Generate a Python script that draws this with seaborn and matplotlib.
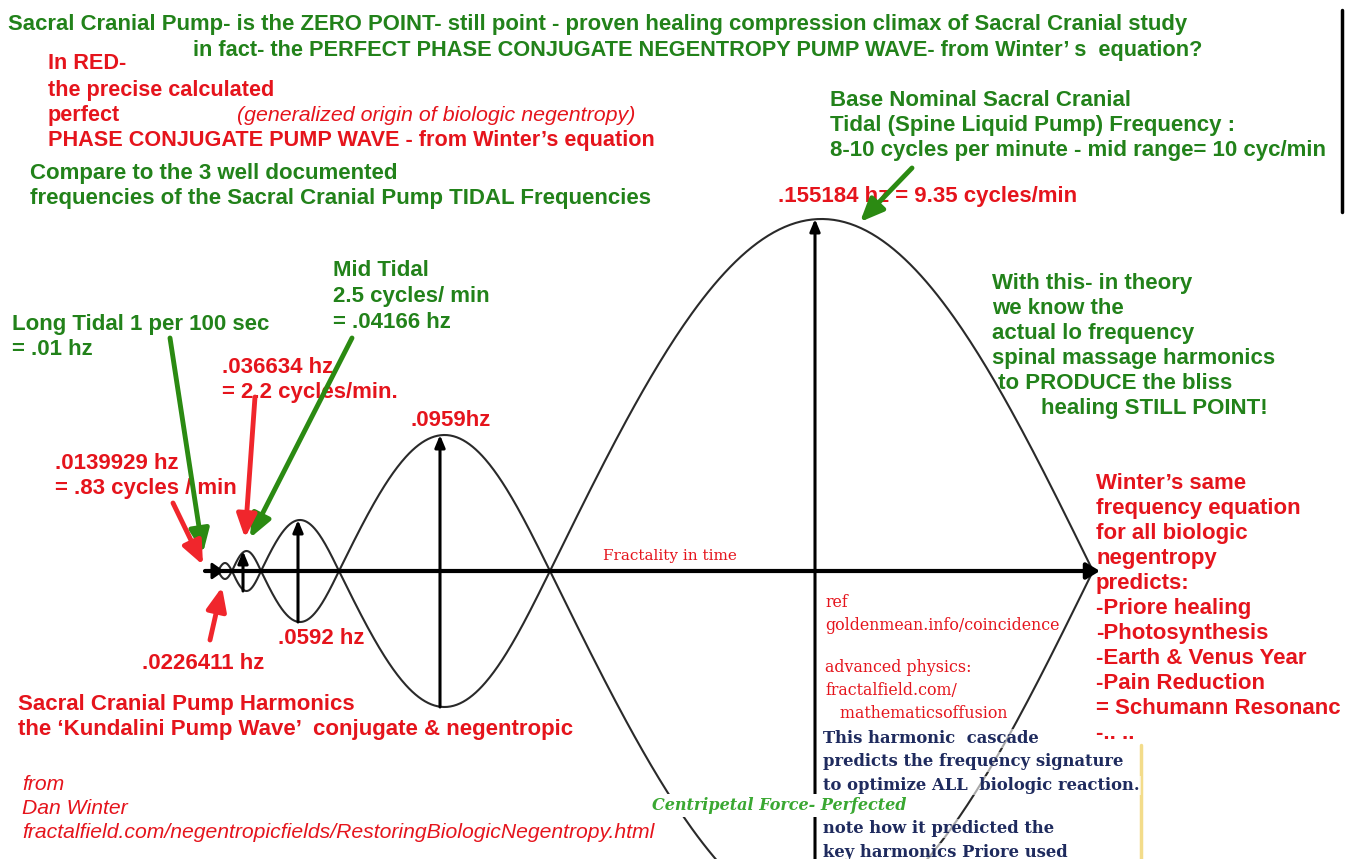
import numpy as np
import pandas as pd
import matplotlib
matplotlib.use("Agg")
import matplotlib.pyplot as plt
import seaborn as sns

sns.set_theme(style="white")
plt.rcParams['font.family'] = ['Liberation Sans', 'DejaVu Sans']

# wave: zero crossings along the time line (px) and lobe heights (px)
nodes = [218, 232, 261, 339, 550, 1093]
heights = [8, 20, 51, 136, 352]
peak_x = [225, 243, 298, 440, 815]
axis_y = 571

# texts
title_lines = ["Sacral Cranial Pump- is the ZERO POINT- still point - proven healing compression climax of Sacral Cranial study",
               "in fact- the PERFECT PHASE CONJUGATE NEGENTROPY PUMP WAVE- from Winter\u2019 s  equation?"]
red_intro = ["In RED-", "the precise calculated", "perfect",
             "PHASE CONJUGATE PUMP WAVE - from Winter\u2019s equation"]
red_note = "(generalized origin of biologic negentropy)"
compare_lines = ["Compare to the 3 well documented",
                 "frequencies of the Sacral Cranial Pump TIDAL Frequencies"]
base_lines = ["Base Nominal Sacral Cranial", "Tidal (Spine Liquid Pump) Frequency :",
              "8-10 cycles per minute - mid range= 10 cyc/min"]
mid_tidal = ["Mid Tidal", "2.5 cycles/ min", "= .04166 hz"]
long_tidal = ["Long Tidal 1 per 100 sec", "= .01 hz"]
freq_labels = [[".0139929 hz", "= .83 cycles / min"], [".0226411 hz"],
               [".036634 hz", "= 2.2 cycles/min."], [".0592 hz"], [".0959hz"],
               [".155184 hz = 9.35 cycles/min"]]
theory_lines = ["With this- in theory", "we know the", "actual lo frequency",
                "spinal massage harmonics", " to PRODUCE the bliss", "        healing STILL POINT!"]
winter_lines = ["Winter\u2019s same", "frequency equation", "for all biologic", "negentropy",
                "predicts:", "-Priore healing", "-Photosynthesis", "-Earth & Venus Year",
                "-Pain Reduction", "= Schumann Resonanc", "-.. .."]
harm_lines = ["Sacral Cranial Pump Harmonics",
              "the \u2018Kundalini Pump Wave\u2019  conjugate & negentropic"]
from_lines = ["from", "Dan Winter",
              "fractalfield.com/negentropicfields/RestoringBiologicNegentropy.html"]
ref_lines = ["ref", "goldenmean.info/coincidence"]
phys_lines = ["advanced physics:", "fractalfield.com/", "   mathematicsoffusion"]
cascade_lines = ["This harmonic  cascade", "predicts the frequency signature",
                 "to optimize ALL  biologic reaction."]
note_lines = ["note how it predicted the", "key harmonics Priore used"]

green = '#22821a'
red = '#e5141c'
navy = '#1f2b5e'
a_green = '#2b8a12'
a_red = '#f0262c'

fig = plt.figure(figsize=(13.62, 8.59), dpi=100)
ax = fig.add_axes([0, 0, 1, 1])

# wave lobes
rows = []
for i in range(len(heights)):
    a, b = nodes[i], nodes[i + 1]
    xs = np.linspace(a, b, 200)
    s = np.sin(np.pi * (xs - a) / (b - a))
    for sign, half in [(-1, 'up'), (1, 'down')]:
        for x, v in zip(xs, s):
            rows.append({'x': x, 'y': axis_y + sign * heights[i] * v, 'seg': f'{i}{half}'})
wave = pd.DataFrame(rows)
sns.lineplot(data=wave, x='x', y='y', units='seg', estimator=None, sort=False,
             color='#2a2a2a', lw=1.5, ax=ax, legend=False)
ax.set_xlim(0, 1362)
ax.set_ylim(859, 0)
ax.axis('off')

# time line
ax.annotate('', xy=(1100, axis_y), xytext=(205, axis_y),
            arrowprops=dict(arrowstyle='-|>,head_length=0.5,head_width=0.3', lw=3, color='black',
                            shrinkA=0, shrinkB=0, mutation_scale=16))
ax.annotate('', xy=(224, axis_y), xytext=(205, axis_y),
            arrowprops=dict(arrowstyle='-|>,head_length=0.5,head_width=0.35', lw=2, color='black',
                            shrinkA=0, shrinkB=0, mutation_scale=14))

# centre arrows of the lobes
for i in range(1, len(heights)):
    ax.annotate('', xy=(peak_x[i], axis_y - heights[i]), xytext=(peak_x[i], axis_y + heights[i]),
                arrowprops=dict(arrowstyle='-|>,head_length=0.6,head_width=0.25', lw=2.2,
                                color='black', shrinkA=0, shrinkB=0, mutation_scale=12))

# right bar
ax.plot([1342, 1342], [10, 212], color='black', lw=2.5)
ax.plot([1141, 1141], [745, 859], color='#f3dc8a', lw=2.5)


def block(x, y, lines, color, size, step=25, **kw):
    for j, s in enumerate(lines):
        ax.text(x, y + j * step, s, color=color, fontsize=size, va='baseline', ha='left', **kw)


block(8, 30, title_lines[:1], green, 15.9, weight='bold')
block(193, 56, title_lines[1:], green, 15.7, weight='bold')
block(48, 69, red_intro[:1], red, 15.6, weight='bold')
block(48, 96, red_intro[1:], red, 15.6, weight='bold')
ax.text(237, 121, red_note, color=red, fontsize=15.4, style='italic', va='baseline')
block(30, 179, compare_lines, green, 16, weight='bold')
block(830, 106, base_lines, green, 16, weight='bold')
block(333, 276, mid_tidal, green, 16, step=26, weight='bold')
block(12, 330, long_tidal, green, 16, weight='bold')
block(992, 289, theory_lines, green, 16, weight='bold')
block(1096, 489, winter_lines, red, 16, weight='bold')
block(18, 710, harm_lines, red, 16, weight='bold')
block(22, 790, from_lines, red, 15.2, step=24, style='italic')

# frequency labels
block(55, 469, freq_labels[0], red, 16, weight='bold')
block(142, 669, freq_labels[1], red, 16, weight='bold')
block(222, 373, freq_labels[2], red, 16, weight='bold')
block(278, 644, freq_labels[3], red, 16, weight='bold')
block(410, 426, freq_labels[4], red, 16, weight='bold')
block(778, 202, freq_labels[5], red, 16, weight='bold')

ax.text(603, 560, "Fractality in time", color=red, fontsize=11, family='DejaVu Serif', va='baseline')
block(825, 607, ref_lines, red, 11.4, step=23, family='DejaVu Serif')
block(825, 672, phys_lines, red, 11.4, step=23, family='DejaVu Serif')
block(823, 743, cascade_lines, navy, 11.8, step=23.5, family='DejaVu Serif', weight='bold',
      bbox=dict(facecolor='white', edgecolor='none', alpha=0.6, pad=1))
block(823, 833, note_lines, navy, 11.8, step=24, family='DejaVu Serif', weight='bold',
      bbox=dict(facecolor='white', edgecolor='none', alpha=0.6, pad=1))
ax.text(652, 810, "Centripetal Force- Perfected", color='#3aa832', fontsize=11.5, family='DejaVu Serif',
        weight='bold', style='italic', va='baseline',
        bbox=dict(facecolor='white', edgecolor='none', pad=2))

# pointer arrows
arrows = [((170, 338), (203, 553), a_green), ((352, 338), (250, 538), a_green),
          ((912, 168), (860, 222), a_green), ((173, 503), (203, 565), a_red),
          ((255, 397), (245, 538), a_red), ((210, 640), (222, 587), a_red)]
for start, tip, c in arrows:
    ax.annotate('', xy=tip, xytext=start, zorder=5,
                arrowprops=dict(arrowstyle='-|>,head_length=0.7,head_width=0.3', lw=3.5, color=c,
                                shrinkA=0, shrinkB=0, mutation_scale=20))

fig.savefig('out.png', dpi=100)
